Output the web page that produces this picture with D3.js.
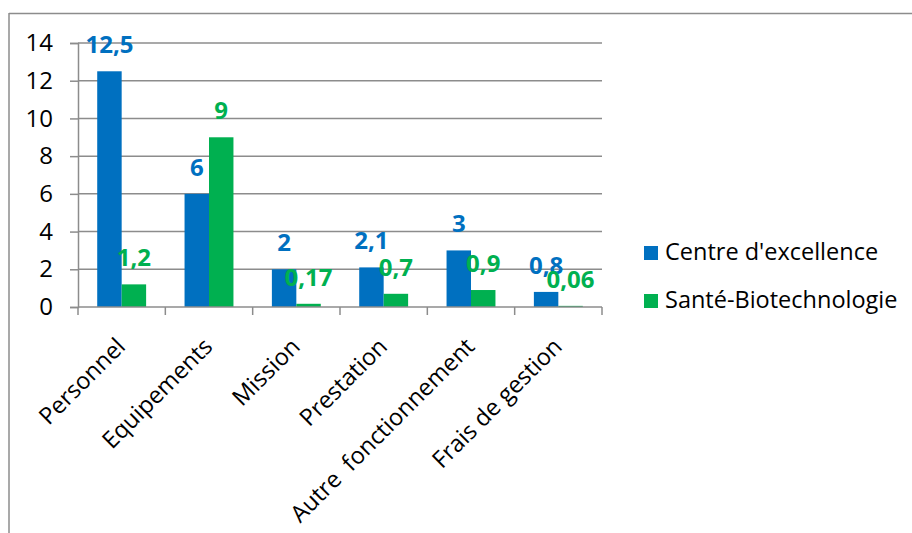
<!DOCTYPE html>
<html><head><meta charset="utf-8">
<script src="https://cdn.jsdelivr.net/npm/d3@7/dist/d3.min.js"></script>
<style>body{margin:0;background:#fff}svg{display:block}text{font-family:"Open Sans",sans-serif;white-space:pre}</style>
</head><body><svg id="c" width="912" height="533"></svg>
<script>
const categories = ["Personnel","Equipements","Mission","Prestation","Autre  fonctionnement","Frais de gestion"];
const seriesNames = ["Centre d'excellence","Santé-Biotechnologie"];
const centre = [12.5, 6, 2, 2.1, 3, 0.8];
const sante = [1.2, 9, 0.17, 0.7, 0.9, 0.06];
const centreLabels = ["12,5","6","2","2,1","3","0,8"];
const santeLabels = ["1,2","9","0,17","0,7","0,9","0,06"];
const yTicks = [0,2,4,6,8,10,12,14];
const colors = ["#0070C0","#00B050"];

const svg = d3.select("#c");
const L=78,R=602,T=43,B=307;
// outer border
svg.append("line").attr("x1",9).attr("x2",912).attr("y1",13.5).attr("y2",13.5).attr("stroke","#8c8c8c").attr("stroke-width",1.5);
svg.append("line").attr("x1",9).attr("x2",9).attr("y1",13).attr("y2",533).attr("stroke","#8c8c8c").attr("stroke-width",1.5);

const x = d3.scaleBand().domain(categories).range([L,R]).paddingInner(0.44).paddingOuter(0.22);
const xs = d3.scaleBand().domain([0,1]).range([0,x.bandwidth()]);
const y = d3.scaleLinear().domain([0,14]).range([B,T]);

// gridlines
svg.append("g").selectAll("line").data(yTicks.filter(d=>d>0)).join("line")
  .attr("x1",L).attr("x2",R).attr("y1",d=>y(d)).attr("y2",d=>y(d))
  .attr("stroke","#8c8c8c").attr("stroke-width",1.5);

const yAxis = svg.append("g").attr("transform",`translate(${L},0)`)
  .call(d3.axisLeft(y).tickValues(yTicks).tickSize(8).tickPadding(17).tickFormat(d=>d));
yAxis.select(".domain").attr("stroke","#8c8c8c").attr("stroke-width",1.5);
yAxis.selectAll(".tick line").attr("stroke","#8c8c8c").attr("stroke-width",1.5);
yAxis.selectAll("text").attr("font-size",24).attr("fill","#000").attr("font-family","'Open Sans',sans-serif");

// bars
const data = categories.map((c,i)=>({c,vals:[centre[i],sante[i]],labs:[centreLabels[i],santeLabels[i]]}));
const g = svg.append("g").selectAll("g").data(data).join("g").attr("transform",d=>`translate(${x(d.c)},0)`);
g.selectAll("rect").data(d=>d.vals.map((v,k)=>({v,k}))).join("rect")
  .attr("x",d=>xs(d.k)).attr("width",xs.bandwidth())
  .attr("y",d=>y(d.v)).attr("height",d=>B-y(d.v)).attr("fill",d=>colors[d.k]);
g.selectAll("text").data(d=>d.vals.map((v,k)=>({v,k,l:d.labs[k]}))).join("text")
  .attr("x",d=>xs(d.k)+xs.bandwidth()/2).attr("y",d=>y(d.v)-18)
  .attr("text-anchor","middle").attr("font-size",24).attr("font-weight","bold")
  .attr("fill",d=>colors[d.k]).text(d=>d.l);

// x axis
const step = (R-L)/categories.length;
const xg = svg.append("g");
xg.append("line").attr("x1",L).attr("x2",R).attr("y1",B).attr("y2",B).attr("stroke","#8c8c8c").attr("stroke-width",1.5);
xg.selectAll(".tk").data(d3.range(categories.length+1)).join("line")
  .attr("x1",i=>L+i*step).attr("x2",i=>L+i*step).attr("y1",B).attr("y2",B+8)
  .attr("stroke","#8c8c8c").attr("stroke-width",1.5);
xg.selectAll(".xl").data(categories).join("text")
  .attr("transform",d=>`translate(${x(d)+x.bandwidth()/2+5},${B+41}) rotate(-45)`)
  .attr("text-anchor","end").attr("font-size",23.5).attr("fill","#000").text(d=>d);

// legend
const lg = svg.append("g").selectAll("g").data(seriesNames).join("g")
  .attr("transform",(d,i)=>`translate(644,${246+i*48})`);
lg.append("rect").attr("width",14).attr("height",14).attr("fill",(d,i)=>colors[i]);
lg.append("text").attr("x",21).attr("y",14).attr("font-size",23.5).attr("fill","#000").text(d=>d);
</script></body></html>
